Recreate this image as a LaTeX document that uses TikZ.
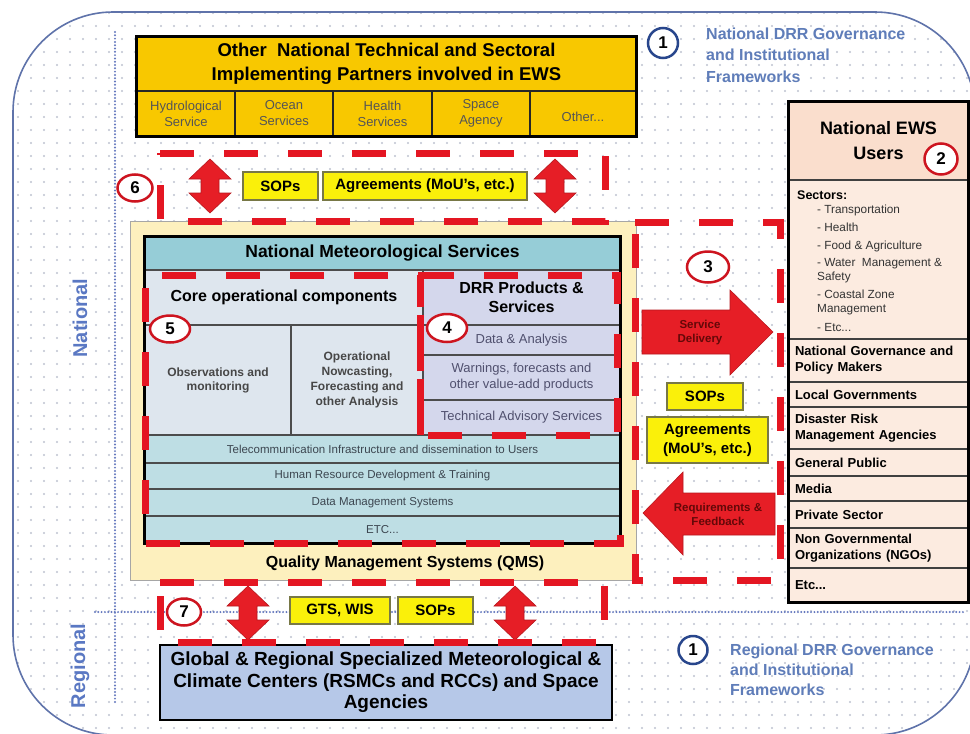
\documentclass[tikz,border=0pt]{standalone}
\usepackage{fontspec}
\setmainfont{Liberation Sans}
\usetikzlibrary{patterns.meta,shapes.geometric}

\definecolor{framecol}{RGB}{95,115,170}
\definecolor{dotcol}{RGB}{190,194,208}
\definecolor{divcol}{RGB}{100,120,190}
\definecolor{govcol}{RGB}{95,125,185}
\definecolor{natcol}{RGB}{90,120,195}
\definecolor{ringblue}{RGB}{40,70,140}
\definecolor{gold}{RGB}{248,200,0}
\definecolor{tagyellow}{RGB}{250,240,10}
\definecolor{tagedge}{RGB}{120,120,70}
\definecolor{qmsfill}{RGB}{253,240,190}
\definecolor{nmshead}{RGB}{150,205,215}
\definecolor{corefill}{RGB}{222,230,238}
\definecolor{drrfill}{RGB}{212,215,236}
\definecolor{rowfill}{RGB}{190,222,228}
\definecolor{userhead}{RGB}{250,222,205}
\definecolor{userfill}{RGB}{252,235,224}
\definecolor{globfill}{RGB}{182,200,232}
\definecolor{dashred}{RGB}{228,22,34}
\definecolor{arrowred}{RGB}{230,30,38}
\definecolor{arrowtext}{RGB}{100,8,8}
\definecolor{celltext}{RGB}{85,85,85}
\definecolor{drrtext}{RGB}{80,80,110}
\definecolor{rowtext}{RGB}{60,70,80}

% faint dot grid for the background
\tikzdeclarepattern{
  name=bgdots,
  type=uncolored,
  bounding box={(0pt,0pt) and (12.5pt,12.5pt)},
  tile size={(12.5pt,12.5pt)},
  code={\fill (6.25pt,6.25pt) circle [radius=1.15pt];}
}

\tikzset{
  partcell/.style={fill=gold, draw=black!85, line width=1.5pt, inner sep=0pt, align=center,
    text=celltext, font=\fontsize{13}{16}\selectfont},
  nmscell/.style={draw=black!70, line width=1.2pt, inner sep=0pt, align=center},
  rowcell/.style={nmscell, fill=rowfill, text=rowtext, font=\fontsize{11.5}{14}\selectfont},
  drrcell/.style={nmscell, fill=drrfill, text=drrtext, font=\fontsize{13}{16}\selectfont},
  usercell/.style={fill=userfill, draw=black!75, line width=1.2pt, inner ysep=0pt, inner xsep=6pt,
    text width=167pt, align=left, font=\fontsize{13}{16}\bfseries},
  tag/.style={draw=tagedge, line width=1.2pt, fill=tagyellow, inner sep=0pt, align=center,
    font=\fontsize{15}{19}\bfseries},
  zone/.style={draw=dashred, line width=7pt, dash pattern=on 34pt off 30pt},
  badge/.style={ellipse, draw=dashred!90!black, line width=2.5pt, fill=white, inner sep=0pt,
    font=\fontsize{17}{17}\bfseries},
  bluebadge/.style={badge, draw=ringblue},
  divider/.style={draw=divcol, line width=2.2pt, line cap=round, dash pattern=on 0pt off 3.3pt},
  updown/.pic={
    \fill[arrowred, draw=arrowred!80!black, line width=0.6pt]
      (0,-27) -- (21,-7) -- (9,-7) -- (9,7) -- (21,7) -- (0,27)
      -- (-21,7) -- (-9,7) -- (-9,-7) -- (-21,-7) -- cycle;
  }
}

\begin{document}
\begin{tikzpicture}[x=1pt,y=-1pt]
\useasboundingbox (0,0) rectangle (970,734);

% outer governance frame
\fill[white, rounded corners=100pt] (13,12) rectangle (975,735);
\fill[pattern=bgdots, pattern color=dotcol, rounded corners=100pt] (13,12) rectangle (975,735);
\draw[framecol, line width=1.6pt, rounded corners=100pt] (13,12) rectangle (975,735);

% national / regional dividers
\coordinate (vtop) at (115,32);
\coordinate (vbot) at (115,705);
\coordinate (hleft) at (95,612);
\coordinate (hright) at (965,612);
\draw[divider] (vtop) -- (vbot);
\draw[divider] (hleft) -- (hright);

\node[rotate=90, text=natcol, font=\fontsize{20}{20}\bfseries] (natlabel) at (80,318) {National};
\node[rotate=90, text=natcol, font=\fontsize{20}{20}\bfseries] (reglabel) at (80,666) {Regional};

% governance notes
\node[bluebadge, minimum width=30pt, minimum height=30pt] (gov1) at (663,43) {1};
\node[anchor=west, align=left, text=govcol, inner sep=0pt, font=\fontsize{16}{21.5}\bfseries]
  (govnat) at (706,55) {National DRR Governance\\and Institutional\\Frameworks};
\node[bluebadge, minimum width=29pt, minimum height=28pt] (gov1b) at (693,650) {1};
\node[anchor=west, align=left, text=govcol, inner sep=0pt, font=\fontsize{16}{20}\bfseries]
  (govreg) at (730,670) {Regional DRR Governance\\and Institutional\\Frameworks};

% other national technical and sectoral partners
\node[fill=gold, inner sep=0pt, minimum width=499pt, minimum height=54pt, align=center,
  font=\fontsize{18.5}{24}\bfseries] (partners) at (386.5,64)
  {Other~ National Technical and Sectoral\\Implementing Partners involved in EWS};
\node[partcell, minimum width=98pt, minimum height=45pt] (hydro) at (186,113.5) {Hydrological\\Service};
\node[partcell, minimum width=98pt, minimum height=45pt] (ocean) at (284,113.5) {Ocean\\Services};
\node[partcell, minimum width=99pt, minimum height=45pt] (health) at (382.5,113.5) {Health\\Services};
\node[partcell, minimum width=98pt, minimum height=45pt] (space) at (481,113.5) {Space\\Agency};
\node[partcell, minimum width=106pt, minimum height=45pt] (otherp) at (583,113.5) {~\\Other...};
\draw[line width=3pt] (partners.north west) rectangle (otherp.south east);

% quality management system frame
\node[fill=qmsfill, draw=gray!70, line width=1pt, minimum width=506pt, minimum height=359pt,
  inner sep=0pt] (qms) at (383,400.5) {};
\node[font=\fontsize{16}{16}\bfseries] (qmslabel) at (405,563) {Quality Management Systems (QMS)};

% national meteorological services
\node[nmscell, fill=nmshead, minimum width=475pt, minimum height=33pt,
  font=\fontsize{17.5}{17.5}\bfseries] (nmshead) at (382.5,253.5) {National Meteorological Services};
\node[nmscell, fill=corefill, minimum width=278pt, minimum height=55pt,
  font=\fontsize{16}{16}\bfseries] (coretitle) at (284,297.5) {Core operational components};
\node[nmscell, fill=corefill, minimum width=146pt, minimum height=110pt, text=black!72,
  font=\fontsize{12}{14}\bfseries] (obs) at (218,380) {Observations and\\monitoring};
\node[nmscell, fill=corefill, minimum width=132pt, minimum height=110pt, text=black!72,
  font=\fontsize{12}{15}\bfseries] (oper) at (357,380) {Operational\\Nowcasting,\\Forecasting and\\other Analysis};
\node[nmscell, fill=drrfill, minimum width=197pt, minimum height=55pt,
  font=\fontsize{16}{18.5}\bfseries] (drrtitle) at (521.5,297.5) {DRR Products \&\\Services};
\node[drrcell, minimum width=197pt, minimum height=30pt] (drrdata) at (521.5,340) {Data \& Analysis};
\node[drrcell, minimum width=197pt, minimum height=45pt] (drrwarn) at (521.5,377.5)
  {Warnings, forecasts and\\other value-add products};
\node[drrcell, minimum width=197pt, minimum height=35pt] (drrtech) at (521.5,417.5) {Technical Advisory Services};
\node[rowcell, minimum width=475pt, minimum height=28pt] (telecom) at (382.5,449)
  {Telecommunication Infrastructure and dissemination to Users};
\node[rowcell, minimum width=475pt, minimum height=26pt] (hrd) at (382.5,476)
  {Human Resource Development \& Training};
\node[rowcell, minimum width=475pt, minimum height=27pt] (dms) at (382.5,502.5) {Data Management Systems};
\node[rowcell, minimum width=475pt, minimum height=27pt] (etcrow) at (382.5,529.5) {ETC...};
\draw[line width=2.5pt] (nmshead.north west) rectangle (etcrow.south east);

% national EWS users
\node[fill=userhead, draw=black!75, line width=1.2pt, minimum width=179pt, minimum height=78pt,
  inner sep=0pt, align=center, font=\fontsize{18}{25}\bfseries] (uhead) at (878.5,141)
  {National EWS\\Users};
\node[usercell, minimum height=159pt] (usectors) at (878.5,259.5) {};
\node[usercell, minimum height=43pt] (ugov) at (878.5,360.5) {National Governance and\\Policy Makers};
\node[usercell, minimum height=25pt] (ulocal) at (878.5,394.5) {Local Governments};
\node[usercell, minimum height=42pt] (udrm) at (878.5,428) {Disaster Risk\\Management Agencies};
\node[usercell, minimum height=27pt] (upublic) at (878.5,462.5) {General Public};
\node[usercell, minimum height=25pt] (umedia) at (878.5,488.5) {Media};
\node[usercell, minimum height=27pt] (uprivate) at (878.5,514.5) {Private Sector};
\node[usercell, minimum height=40pt] (ungo) at (878.5,548) {Non Governmental\\Organizations (NGOs)};
\node[usercell, minimum height=34pt] (uetc) at (878.5,585) {Etc...};
\draw[line width=2.5pt] (uhead.north west) rectangle (uetc.south east);
\node[anchor=west, inner sep=0pt, font=\fontsize{12.5}{12.5}\bfseries] (sectlabel) at (797,195) {Sectors:};
\node[anchor=north west, align=left, inner sep=0pt, text=black!80, font=\fontsize{11.8}{14}\selectfont]
  (sectlist) at (817,204.5)
  {- Transportation\\[4pt]- Health\\[4pt]- Food \& Agriculture\\[3pt]- Water~ Management \&\\Safety\\[4pt]- Coastal Zone\\Management\\[5pt]- Etc...};

% global and regional centres
\node[fill=globfill, draw=black, line width=2.5pt, minimum width=452pt, minimum height=75pt,
  inner sep=0pt, align=center, font=\fontsize{19}{21.5}\bfseries] (glob) at (386,682.5)
  {Global \& Regional Specialized Meteorological \&\\Climate Centers (RSMCs and RCCs) and Space\\Agencies};

% agreements and procedures
\node[tag, minimum width=75pt, minimum height=28pt] (sops6) at (280.5,186) {SOPs};
\node[tag, minimum width=204pt, minimum height=28pt] (agr6) at (425,186) {Agreements (MoU's, etc.)};
\node[tag, minimum width=76pt, minimum height=27pt] (sops3) at (705,396.5) {SOPs};
\node[tag, minimum width=121pt, minimum height=46pt] (agr3) at (707.5,440) {Agreements\\(MoU's, etc.)};
\node[tag, minimum width=100pt, minimum height=27pt] (gts7) at (340,610.5) {GTS, WIS};
\node[tag, minimum width=75pt, minimum height=27pt] (sops7) at (435.5,610.5) {SOPs};

% two-way exchanges
\pic (x6a) at (210,186) {updown};
\pic (x6b) at (555,186) {updown};
\pic (x7a) at (248,613) {updown};
\pic (x7b) at (515,613) {updown};

% service delivery and feedback
\fill[arrowred, draw=arrowred!80!black, line width=0.6pt]
  (642,310) -- (730,310) -- (730,290) -- (773,332) -- (730,375) -- (730,354) -- (642,354) -- cycle;
\node[align=center, text=arrowtext, font=\fontsize{11.5}{14}\bfseries] (delivery) at (700,333) {Service\\Delivery};
\fill[arrowred, draw=arrowred!80!black, line width=0.6pt]
  (775,493) -- (683,493) -- (683,472) -- (643,513) -- (683,555) -- (683,535) -- (775,535) -- cycle;
\node[align=center, text=arrowtext, font=\fontsize{11.5}{14}\bfseries] (feedback) at (718,514) {Requirements \&\\Feedback};

% numbered zones
\draw[zone] (160,153) -- (605,153) -- (605,221) -- (160,221) -- cycle;
\draw[zone] (635,222) -- (780,222) -- (780,580) -- (635,580) -- cycle;
\draw[zone] (420,275) -- (617,275) -- (617,435) -- (420,435) -- cycle;
\draw[zone] (420,435) -- (420,275) -- (145,275) -- (145,543) -- (620,543) -- (620,525);
\draw[zone] (160,582) -- (604,582) -- (604,642) -- (160,642) -- cycle;

\node[badge, minimum width=35pt, minimum height=27pt] (n6) at (135,188) {6};
\node[badge, minimum width=33pt, minimum height=31pt] (n2) at (941,159) {2};
\node[badge, minimum width=42pt, minimum height=31pt] (n3) at (708,267) {3};
\node[badge, minimum width=40pt, minimum height=28pt] (n4) at (447,328) {4};
\node[badge, minimum width=40pt, minimum height=27pt] (n5) at (170,329) {5};
\node[badge, minimum width=34pt, minimum height=27pt] (n7) at (184,612) {7};
\end{tikzpicture}
\end{document}
